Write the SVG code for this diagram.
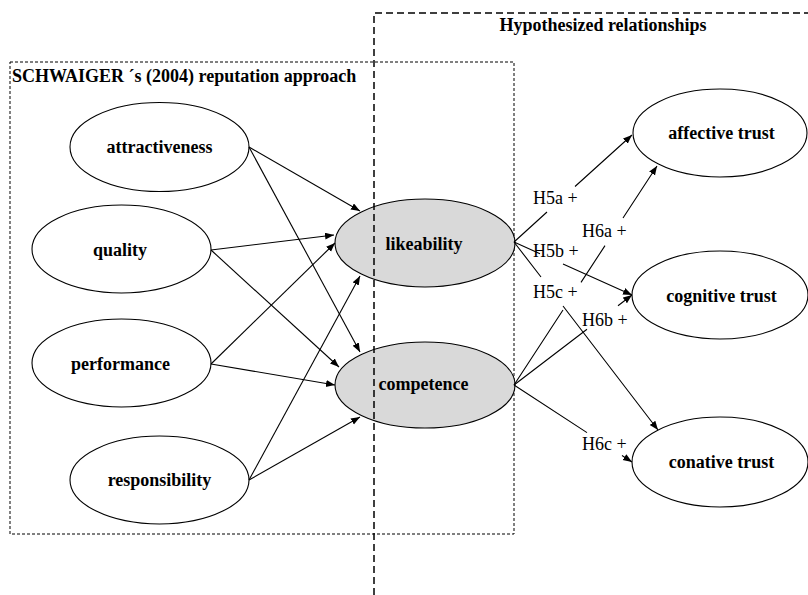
<svg xmlns="http://www.w3.org/2000/svg" width="808" height="595" viewBox="0 0 808 595">
  <style>
    .node { fill: #ffffff; stroke: #000000; stroke-width: 1.1; }
    .shaded { fill: #d9d9d9; }
    .name { font-family: "Liberation Serif", "Times New Roman", serif; font-weight: bold; font-size: 18px; fill: #000000; text-anchor: middle; }
    .title { font-family: "Liberation Serif", "Times New Roman", serif; font-weight: bold; font-size: 18px; fill: #000000; }
    .hyp { font-family: "Liberation Serif", "Times New Roman", serif; font-size: 18px; fill: #000000; }
    .edge { fill: none; stroke: #000000; stroke-width: 1.1; }
    .arrow { marker-end: url(#head); }
  </style>
  <defs>
    <marker id="head" markerUnits="userSpaceOnUse" markerWidth="10" markerHeight="8" refX="9" refY="3.5" orient="auto">
      <path d="M0,0 L9,3.5 L0,7 z" fill="#000000"/>
    </marker>
  </defs>

  <!-- reputation approach frame (fine dotted) -->
  <rect x="10" y="62" width="504" height="472" fill="none" stroke="#000000" stroke-width="1" stroke-dasharray="3 2"/>
  <text class="title" x="12" y="82">SCHWAIGER ´s (2004) reputation approach</text>

  <!-- reputation dimensions -->
  <g id="attractiveness">
    <ellipse class="node" cx="159.5" cy="147" rx="89.5" ry="44.5"/>
    <text class="name" x="159.5" y="153">attractiveness</text>
  </g>
  <g id="quality">
    <ellipse class="node" cx="121.5" cy="249" rx="89.5" ry="44"/>
    <text class="name" x="120" y="256">quality</text>
  </g>
  <g id="performance">
    <ellipse class="node" cx="121.5" cy="363" rx="89.5" ry="44"/>
    <text class="name" x="120.5" y="370">performance</text>
  </g>
  <g id="responsibility">
    <ellipse class="node" cx="159.5" cy="480" rx="89.5" ry="44"/>
    <text class="name" x="159.5" y="486">responsibility</text>
  </g>

  <!-- reputation constructs -->
  <g id="likeability">
    <ellipse class="node shaded" cx="425" cy="243" rx="90" ry="44"/>
    <text class="name" x="424" y="250">likeability</text>
  </g>
  <g id="competence">
    <ellipse class="node shaded" cx="425" cy="385" rx="90" ry="43"/>
    <text class="name" x="423.5" y="390">competence</text>
  </g>

  <!-- trust outcomes -->
  <g id="affective-trust">
    <ellipse class="node" cx="720" cy="133" rx="87" ry="44"/>
    <text class="name" x="721.5" y="139">affective trust</text>
  </g>
  <g id="cognitive-trust">
    <ellipse class="node" cx="720" cy="295" rx="88" ry="44"/>
    <text class="name" x="721.5" y="302">cognitive trust</text>
  </g>
  <g id="conative-trust">
    <ellipse class="node" cx="720" cy="462" rx="88" ry="45"/>
    <text class="name" x="721.5" y="468">conative trust</text>
  </g>

  <!-- connectors -->
  <g id="connectors">
    <!-- dimensions to constructs -->
    <path class="edge arrow" d="M249,147 L360,211"/>
    <path class="edge arrow" d="M249,147 L360,352"/>
    <path class="edge arrow" d="M211,250 L334,235"/>
    <path class="edge arrow" d="M211,250 L339,367"/>
    <path class="edge arrow" d="M211,364 L335,243"/>
    <path class="edge arrow" d="M211,364 L335,385"/>
    <path class="edge arrow" d="M249,480 L360,276"/>
    <path class="edge arrow" d="M249,480 L360,417"/>

    <!-- H5a-c: likeability to trust -->
    <path class="edge arrow" d="M514,242 L547,212 M575,186.5 L632,135"/>
    <path class="edge arrow" d="M514,242 L540,253.7 M563,264 L632,295"/>
    <path class="edge arrow" d="M514,242 L541,277 M563,306 L658,430"/>

    <!-- H6a-c: competence to trust -->
    <path class="edge arrow" d="M514,385 L563,310 M581,282.4 L605,245.6 M623,218 L657,166"/>
    <path class="edge arrow" d="M514,385 L587,329.3 M618,305.7 L632,295"/>
    <path class="edge arrow" d="M514,385 L587,432.6 M622,455.5 L632,462"/>
  </g>

  <!-- hypothesis labels -->
  <g id="hypothesis-labels">
    <text class="hyp" x="533" y="204">H5a +</text>
    <text class="hyp" x="582" y="237">H6a +</text>
    <text class="hyp" x="533" y="257">H5b +</text>
    <text class="hyp" x="533" y="298">H5c +</text>
    <text class="hyp" x="582" y="326">H6b +</text>
    <text class="hyp" x="582" y="450">H6c +</text>
  </g>

  <!-- hypothesized relationships frame (coarse dashes) -->
  <path d="M374,595 L374,13 L808,13" fill="none" stroke="#000000" stroke-width="1.5" stroke-dasharray="7 4"/>
  <text class="title" x="603" y="31" text-anchor="middle">Hypothesized relationships</text>
</svg>
